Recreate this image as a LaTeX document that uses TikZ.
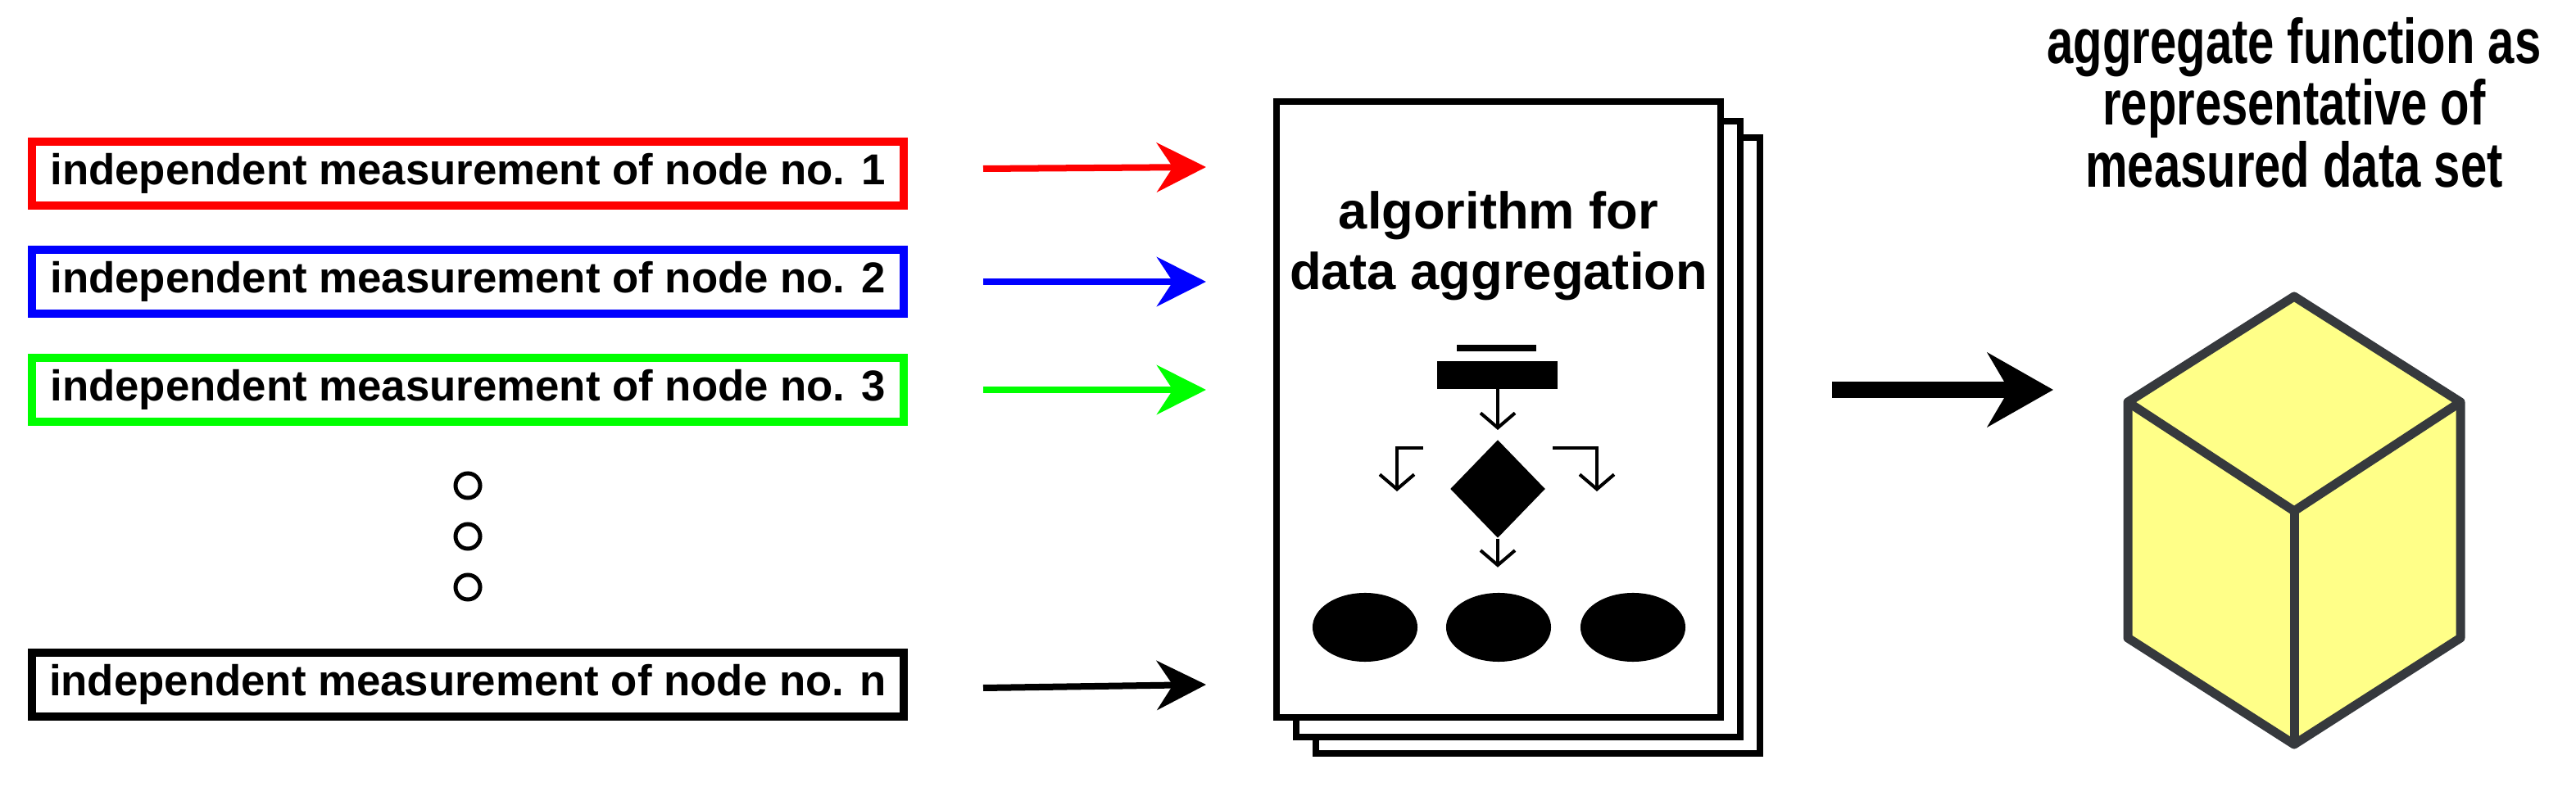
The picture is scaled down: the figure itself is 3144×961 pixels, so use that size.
\documentclass[tikz,border=0pt]{standalone}
\usepackage{fontspec}
\setmainfont{Liberation Sans}
\usetikzlibrary{arrows.meta,positioning,shapes.geometric}

\tikzset{
  meas/.style={draw=#1, line width=0.1cm, minimum width=10.64cm, minimum height=0.78cm,
    inner sep=0pt, font=\bfseries\fontsize{15}{17}\selectfont},
  flow/.style={-{Stealth[length=0.6cm,width=0.6cm]}, line width=0.08cm, #1},
  page/.style={draw, fill=white, line width=0.08cm, minimum width=5.42cm, minimum height=7.52cm, inner sep=0pt},
  sym/.style={-{Straight Barb[length=0.18cm,width=0.42cm]}, line width=0.04cm},
  blob/.style={ellipse, fill=black, minimum width=1.28cm, minimum height=0.84cm, inner sep=0pt},
  dot/.style={circle, draw, line width=0.05cm, minimum size=0.3cm, inner sep=0pt}
}

\begin{document}
\begin{tikzpicture}[x=0.01cm,y=-0.01cm]
\useasboundingbox (0,0) rectangle (3144,961);

% measurements
\node[meas=red]   (m1) at (571,212) {independent measurement of node no. 1};
\node[meas=blue]  (m2) at (571,344) {independent measurement of node no. 2};
\node[meas=green] (m3) at (571,476) {independent measurement of node no. 3};
\node[meas=black] (mn) at (571,836) {independent measurement of node no. n};

\node[dot] (d1) at (571,593) {};
\node[dot] (d2) at (571,655) {};
\node[dot] (d3) at (571,717) {};

% stacked pages
\node[page] (p3) at (1877,544) {};
\node[page] (p2) at (1853,524) {};
\node[page] (alg) at (1829,500) {};
\node[align=center, font=\bfseries\fontsize{18}{21}\selectfont] (algt) at (1829,300) {algorithm for\\data aggregation};

% flowchart symbol
\fill (1778,421) rectangle (1875,429);
\fill (1754,441) rectangle (1901,475);
\coordinate (fa) at (1828,475);
\node[diamond, fill=black, minimum width=1.16cm, minimum height=1.2cm, inner sep=0pt] (dec) at (1828,597) {};
\node[blob] (e1) at (1666,766) {};
\node[blob] (e2) at (1829,766) {};
\node[blob] (e3) at (1993,766) {};
\draw[sym] (fa) -- ++(0,50);
\draw[sym] (dec.south) -- ++(0,35);
\draw[sym] (1737,547) -- (1705,547) -- (1705,600);
\draw[sym] (1895,547) -- (1949,547) -- (1949,600);

% arrows in
\coordinate (a1) at (1200,206);
\coordinate (a2) at (1200,344);
\coordinate (a3) at (1200,476);
\coordinate (an) at (1200,840);
\coordinate (b1) at (1472,204);
\coordinate (b2) at (1472,344);
\coordinate (b3) at (1472,476);
\coordinate (bn) at (1472,836);
\draw[flow=red]   (a1) -- (b1);
\draw[flow=blue]  (a2) -- (b2);
\draw[flow=green] (a3) -- (b3);
\draw[flow=black] (an) -- (bn);

% arrow out
\coordinate (c1) at (2236,476);
\coordinate (c2) at (2506,476);
\draw[-{Stealth[length=0.8cm,width=0.9cm]}, line width=0.2cm] (c1) -- (c2);

% cube
\definecolor{cubefill}{HTML}{FFFF88}
\definecolor{cubeline}{HTML}{36393D}
\begin{scope}[fill=cubefill, draw=cubeline, line width=0.11cm, line join=round]
  \filldraw (2800,362) -- (3003,491) -- (3003,779) -- (2800,909) -- (2597,779) -- (2597,491) -- cycle;
  \draw (2597,491) -- (2800,624) -- (3003,491);
  \draw (2800,624) -- (2800,909);
\end{scope}
\node[align=center, font=\bfseries\fontsize{22}{21.5}\selectfont, xscale=0.75] (res) at (2800,125)
  {aggregate function as\\representative of\\measured data set};

\end{tikzpicture}
\end{document}
